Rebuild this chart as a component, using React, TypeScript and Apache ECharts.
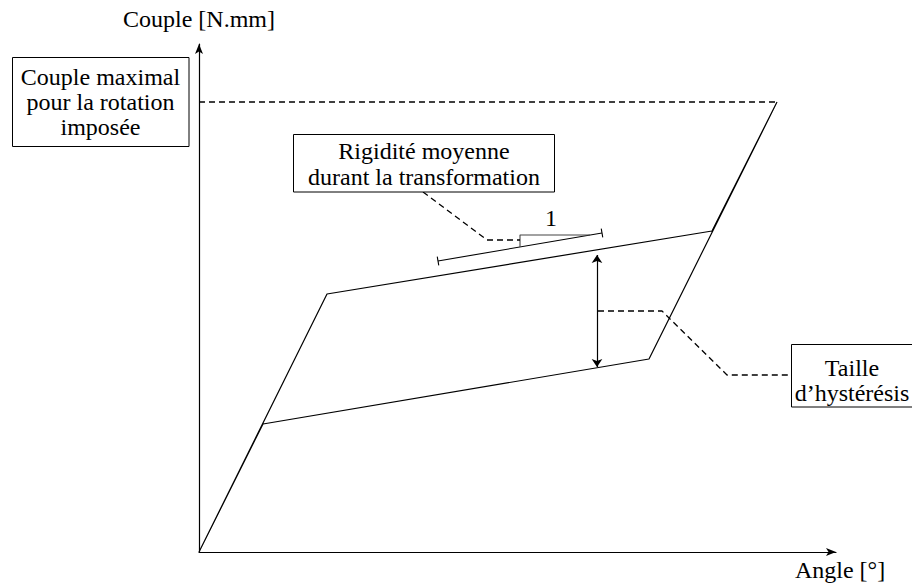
import React, { useEffect, useRef } from "react";
import * as echarts from "echarts";

// Hysteresis curve (angle, torque) in chart units
const curveAngle = [0, 128, 513, 578, 450, 64, 0];
const curveTorque = [0, 258, 321, 450, 193, 128, 0];

// Maximal torque reference (dashed)
const maxLineAngle = [0, 578];
const maxLineTorque = [450, 450];

// Mean stiffness bar (parallel to the plateau)
const stiffBarAngle = [239, 403];
const stiffBarTorque = [291, 319];

// Slope step triangle
const slopeStepAngle = [321, 321, 391];
const slopeStepTorque = [305, 317, 317];
const slopeLabel = ["1"];
const slopeLabelAngle = [352];
const slopeLabelTorque = [334];

// Leader to the stiffness box
const stiffLeaderAngle = [224, 288, 321];
const stiffLeaderTorque = [360, 312, 312];

// Hysteresis size arrow
const hystArrowAngle = [398, 398];
const hystArrowTorque = [185, 297];

// Leader to the hysteresis box
const hystLeaderAngle = [399, 463, 528, 592];
const hystLeaderTorque = [241, 241, 177, 177];

const axisNames = { x: "Angle [°]", y: "Couple [N.mm]" };
const boxMaxLines = ["Couple maximal", "pour la rotation", "imposée"];
const boxStiffLines = ["Rigidité moyenne", "durant la transformation"];
const boxHystLines = ["Taille", "d’hystérésis"];

const FONT = "Liberation Serif";
const FS = 24;

const pairs = (xs: number[], ys: number[]) => xs.map((x, i) => [x, ys[i]]);

export default function App() {
  const ref = useRef<HTMLDivElement>(null);
  useEffect(() => {
    if (!ref.current) return;
    const chart = echarts.init(ref.current, null, { renderer: "svg" });

    // perpendicular end caps of the stiffness bar
    const dx = stiffBarAngle[1] - stiffBarAngle[0];
    const dy = stiffBarTorque[1] - stiffBarTorque[0];
    const len = Math.hypot(dx, dy);
    const nx = (-dy / len) * 4.5;
    const ny = (dx / len) * 4.5;
    const caps = [0, 1].map((i) => ({
      coords: [
        [stiffBarAngle[i] - nx, stiffBarTorque[i] - ny],
        [stiffBarAngle[i] + nx, stiffBarTorque[i] + ny],
      ],
    }));

    const solid = (w = 1.2, c = "#000") => ({ color: c, width: w, type: "solid" as const });
    const dashed = { color: "#000", width: 1.3, type: [6, 4] as any };

    const lineSeries = (name: string, xs: number[], ys: number[], style: any) => ({
      name,
      type: "line",
      data: pairs(xs, ys),
      symbol: "none",
      lineStyle: style,
      silent: true,
      z: 3,
    });

    const textLines = (lines: string[], cx: number, ys: number[]) =>
      lines.map((t, i) => ({
        type: "text",
        x: cx,
        y: ys[i],
        z: 20,
        style: {
          text: t,
          fill: "#000",
          fontFamily: FONT,
          fontSize: FS,
          align: "center",
          verticalAlign: "middle",
        },
      }));

    const rect = (x: number, y: number, w: number, h: number) => ({
      type: "rect",
      z: 10,
      shape: { x, y, width: w, height: h },
      style: { fill: "#fff", stroke: "#000", lineWidth: 1 },
    });

    chart.setOption({
      animation: false,
      grid: { left: 199, top: 44, width: 637, height: 508, containLabel: false },
      xAxis: {
        type: "value",
        min: 0,
        max: 637,
        name: axisNames.x,
        nameLocation: "end",
        nameGap: 0,
        nameTextStyle: {
          fontFamily: FONT,
          fontSize: FS,
          color: "#000",
          align: "center",
          verticalAlign: "top",
          padding: [6, 0, 0, 8],
        },
        axisLine: {
          show: true,
          onZero: false,
          lineStyle: { color: "#000", width: 1.2 },
          symbol: ["none", "arrow"],
          symbolSize: [6, 10],
        },
        axisTick: { show: false },
        axisLabel: { show: false },
        splitLine: { show: false },
      },
      yAxis: {
        type: "value",
        min: 0,
        max: 508,
        name: axisNames.y,
        nameLocation: "end",
        nameGap: 13,
        nameTextStyle: { fontFamily: FONT, fontSize: FS, color: "#000", align: "center" },
        axisLine: {
          show: true,
          onZero: false,
          lineStyle: { color: "#000", width: 1.2 },
          symbol: ["none", "arrow"],
          symbolSize: [6, 10],
        },
        axisTick: { show: false },
        axisLabel: { show: false },
        splitLine: { show: false },
      },
      series: [
        lineSeries("curve", curveAngle, curveTorque, solid(1.2)),
        lineSeries("max", maxLineAngle, maxLineTorque, dashed),
        lineSeries("stiffBar", stiffBarAngle, stiffBarTorque, solid(1.1)),
        lineSeries("slopeStep", slopeStepAngle, slopeStepTorque, solid(1.1, "#444")),
        lineSeries("stiffLeader", stiffLeaderAngle, stiffLeaderTorque, dashed),
        lineSeries("hystLeader", hystLeaderAngle, hystLeaderTorque, dashed),
        {
          name: "caps",
          type: "lines",
          coordinateSystem: "cartesian2d",
          data: caps,
          lineStyle: { color: "#000", width: 1.1, opacity: 1 },
          symbol: "none",
          silent: true,
        },
        {
          name: "hystArrow",
          type: "lines",
          coordinateSystem: "cartesian2d",
          data: [{ coords: pairs(hystArrowAngle, hystArrowTorque) }],
          lineStyle: { color: "#000", width: 1.2, opacity: 1 },
          symbol: ["arrow", "arrow"],
          symbolSize: 8,
          silent: true,
        },
        {
          name: "slopeLabel",
          type: "scatter",
          data: slopeLabel.map((t, i) => ({ value: [slopeLabelAngle[i], slopeLabelTorque[i]], name: t })),
          symbolSize: 0,
          silent: true,
          itemStyle: { opacity: 1 },
          label: {
            show: true,
            position: "inside",
            formatter: (p: any) => p.name,
            fontFamily: FONT,
            fontSize: FS,
            color: "#000",
            opacity: 1,
          },
        },
      ],
      graphic: [
        rect(12.5, 57.5, 176.5, 89),
        ...textLines(boxMaxLines, 100.5, [77, 102, 127]),
        rect(293.5, 134.5, 261, 57.5),
        ...textLines(boxStiffLines, 424, [151, 177]),
        rect(791.5, 344.5, 130, 62.5),
        ...textLines(boxHystLines, 852, [368, 393]),
      ],
    });
    return () => chart.dispose();
  }, []);
  return (
    <div
      ref={ref}
      style={{ position: "fixed", left: 0, top: 0, width: 912, height: 585, background: "#fff" }}
    />
  );
}
